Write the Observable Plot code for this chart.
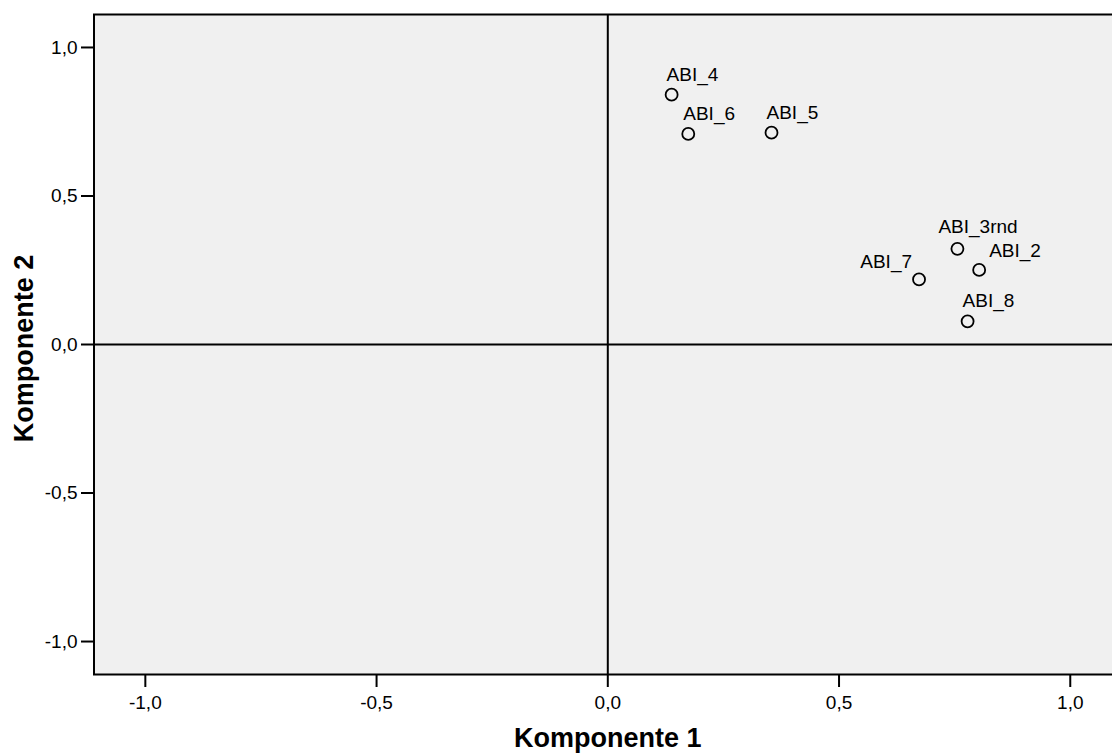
<!DOCTYPE html>
<html>
<head>
<meta charset="utf-8">
<script src="https://cdn.jsdelivr.net/npm/d3@7"></script>
<script src="https://cdn.jsdelivr.net/npm/@observablehq/plot@0.6"></script>
<style>
  html, body { margin: 0; padding: 0; background: #ffffff; overflow: hidden; }
</style>
</head>
<body>
<div id="chart"></div>
<script>
// Data
const names = ["ABI_4", "ABI_6", "ABI_5", "ABI_3rnd", "ABI_2", "ABI_7", "ABI_8"];
const comp1 = [0.138, 0.174, 0.354, 0.756, 0.803, 0.673, 0.778];
const comp2 = [0.841, 0.709, 0.713, 0.322, 0.251, 0.219, 0.078];
const tickValues = [-1, -0.5, 0, 0.5, 1];
const xTitle = "Komponente 1";
const yTitle = "Komponente 2";

const data = names.map((n, i) => ({name: n, x: comp1[i], y: comp2[i]}));
const fmt = v => v.toFixed(1).replace(".", ",");

const font = "'Liberation Sans', Arial, Helvetica, sans-serif";
const labelStyle = {x: "x", y: "y", text: "name", fontSize: 19, fill: "black"};
const standard = ["ABI_4", "ABI_6", "ABI_5", "ABI_8"];

const chart = Plot.plot({
  width: 1112,
  height: 754,
  marginLeft: 93.5,
  marginRight: -9.1,
  marginTop: 14,
  marginBottom: 80,
  style: {fontFamily: font, background: "white", overflow: "hidden"},
  x: {domain: [-1.111, 1.111]},
  y: {domain: [-1.111, 1.111]},
  marks: [
    Plot.frame({fill: "#f0f0f0"}),
    Plot.ruleX([0], {stroke: "black", strokeWidth: 2}),
    Plot.ruleY([0], {stroke: "black", strokeWidth: 2}),
    Plot.frame({stroke: "black", strokeWidth: 2}),
    Plot.axisX({ticks: tickValues, tickFormat: fmt, tickSize: 13, tickPadding: 8, strokeWidth: 2, fontSize: 19, fill: "black", label: null}),
    Plot.axisY({ticks: tickValues, tickFormat: fmt, tickSize: 12.5, tickPadding: 4, strokeWidth: 2, fontSize: 19, fill: "black", label: null}),
    Plot.dot(data, {x: "x", y: "y", r: 6, stroke: "black", strokeWidth: 1.8, fill: "none"}),
    Plot.text(data.filter(d => standard.includes(d.name)), {...labelStyle, textAnchor: "start", dx: -5, dy: -20}),
    Plot.text(data.filter(d => d.name === "ABI_3rnd"), {...labelStyle, textAnchor: "start", dx: -19, dy: -22}),
    Plot.text(data.filter(d => d.name === "ABI_2"), {...labelStyle, textAnchor: "start", dx: 10, dy: -19}),
    Plot.text(data.filter(d => d.name === "ABI_7"), {...labelStyle, textAnchor: "end", dx: -7, dy: -18}),
    Plot.text([xTitle], {frameAnchor: "bottom", textAnchor: "middle", lineAnchor: "bottom", dy: 72, fontSize: 27, fontWeight: "bold", fill: "black"}),
    Plot.text([yTitle], {frameAnchor: "left", textAnchor: "middle", lineAnchor: "bottom", rotate: -90, dx: -61.5, dy: 4, fontSize: 27, fontWeight: "bold", fill: "black"})
  ]
});
document.getElementById("chart").appendChild(chart);
</script>
</body>
</html>
